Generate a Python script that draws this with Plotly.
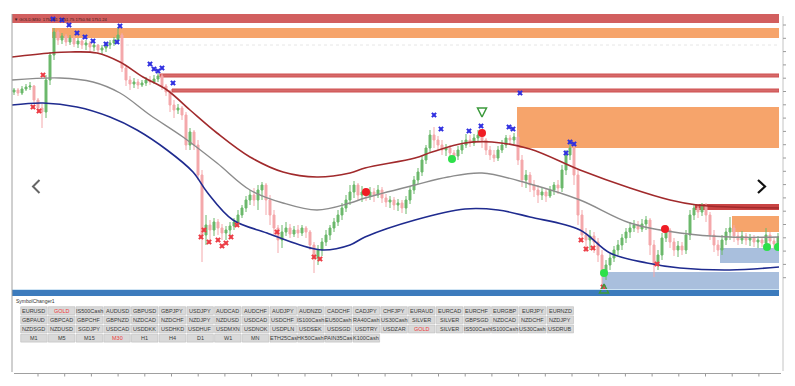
import plotly.graph_objects as go

# page is 795x386; the browser body has an 8px margin, so the figure is 779x370 at (8, 8)
PAGE_OFF = 8
W, H = 779, 370

# ---------------- data (GOLD, M30) ----------------
bar_index = list(range(192))

open_ = [1765.8, 1766.0, 1765.7, 1766.1, 1766.3, 1766.4, 1765.0, 1764.2, 1763.8, 1767.0,
         1769.5, 1771.8, 1771.0, 1771.4, 1770.8, 1771.2, 1770.6, 1770.9, 1770.5, 1770.7,
         1770.3, 1770.5, 1770.0, 1770.2, 1770.5, 1770.7, 1771.0, 1771.5, 1768.2, 1767.0,
         1766.6, 1766.8, 1766.5, 1766.7, 1767.0, 1766.8, 1767.1, 1767.4, 1766.4, 1765.8,
         1764.5, 1764.0, 1764.2, 1763.5, 1760.5, 1761.8, 1760.5, 1757.5, 1751.5, 1752.5,
         1752.0, 1752.8, 1752.2, 1751.7, 1752.0, 1752.4, 1752.8, 1753.5, 1754.2, 1755.0,
         1755.5, 1755.0, 1756.0, 1756.5, 1755.0, 1753.5, 1752.2, 1751.0, 1751.8, 1752.2,
         1751.6, 1752.0, 1751.7, 1752.2, 1751.8, 1750.5, 1749.2, 1750.0, 1750.8, 1751.5,
         1752.2, 1752.8, 1753.5, 1754.2, 1755.0, 1755.8, 1756.5, 1755.5, 1755.8, 1755.4,
         1755.8, 1755.5, 1756.0, 1755.2, 1754.8, 1755.0, 1754.5, 1754.7, 1754.2, 1755.0,
         1756.0, 1757.0, 1757.8, 1759.0, 1760.2, 1761.5, 1761.0, 1760.5, 1760.0, 1760.2,
         1759.7, 1759.4, 1760.0, 1760.5, 1761.0, 1760.7, 1761.2, 1761.5, 1761.0, 1760.0,
         1759.5, 1759.2, 1760.0, 1760.5, 1761.2, 1761.0, 1761.3, 1759.0, 1757.0, 1757.5,
         1756.5, 1756.0, 1755.5, 1755.8, 1755.4, 1756.0, 1756.5, 1756.2, 1758.0, 1759.5,
         1760.2, 1757.5, 1753.5, 1751.5, 1751.0, 1751.4, 1750.8, 1749.5, 1747.5, 1748.5,
         1749.2, 1750.0, 1750.5, 1751.2, 1751.8, 1752.2, 1752.5, 1752.1, 1752.6, 1753.0,
         1750.5, 1748.5, 1749.5, 1751.2, 1752.0, 1750.8, 1750.0, 1750.4, 1750.0, 1751.5,
         1753.5, 1754.2, 1753.8, 1754.4, 1753.5, 1751.5, 1750.5, 1750.0, 1751.0, 1751.8,
         1752.2, 1751.4, 1751.0, 1751.4, 1751.0, 1751.2, 1750.8, 1751.0, 1750.7, 1751.5,
         1750.9, 1750.6]

close = [1766.0, 1765.7, 1766.1, 1766.3, 1766.4, 1765.0, 1764.2, 1763.8, 1767.0, 1769.5,
         1771.8, 1771.0, 1771.4, 1770.8, 1771.2, 1770.6, 1770.9, 1770.5, 1770.7, 1770.3,
         1770.5, 1770.0, 1770.2, 1770.5, 1770.7, 1771.0, 1771.5, 1768.2, 1767.0, 1766.6,
         1766.8, 1766.5, 1766.7, 1767.0, 1766.8, 1767.1, 1767.4, 1766.4, 1765.8, 1764.5,
         1764.0, 1764.2, 1763.5, 1760.5, 1761.8, 1760.5, 1757.5, 1751.5, 1752.5, 1752.0,
         1752.8, 1752.2, 1751.7, 1752.0, 1752.4, 1752.8, 1753.5, 1754.2, 1755.0, 1755.5,
         1755.0, 1756.0, 1756.5, 1755.0, 1753.5, 1752.2, 1751.0, 1751.8, 1752.2, 1751.6,
         1752.0, 1751.7, 1752.2, 1751.8, 1750.5, 1749.2, 1750.0, 1750.8, 1751.5, 1752.2,
         1752.8, 1753.5, 1754.2, 1755.0, 1755.8, 1756.5, 1755.5, 1755.8, 1755.4, 1755.8,
         1755.5, 1756.0, 1755.2, 1754.8, 1755.0, 1754.5, 1754.7, 1754.2, 1755.0, 1756.0,
         1757.0, 1757.8, 1759.0, 1760.2, 1761.5, 1761.0, 1760.5, 1760.0, 1760.2, 1759.7,
         1759.4, 1760.0, 1760.5, 1761.0, 1760.7, 1761.2, 1761.5, 1761.0, 1760.0, 1759.5,
         1759.2, 1760.0, 1760.5, 1761.2, 1761.0, 1761.3, 1759.0, 1757.0, 1757.5, 1756.5,
         1756.0, 1755.5, 1755.8, 1755.4, 1756.0, 1756.5, 1756.2, 1758.0, 1759.5, 1760.2,
         1757.5, 1753.5, 1751.5, 1751.0, 1751.4, 1750.8, 1749.5, 1747.5, 1748.5, 1749.2,
         1750.0, 1750.5, 1751.2, 1751.8, 1752.2, 1752.5, 1752.1, 1752.6, 1753.0, 1750.5,
         1748.5, 1749.5, 1751.2, 1752.0, 1750.8, 1750.0, 1750.4, 1750.0, 1751.5, 1753.5,
         1754.2, 1753.8, 1754.4, 1753.5, 1751.5, 1750.5, 1750.0, 1751.0, 1751.8, 1752.2,
         1751.4, 1751.0, 1751.4, 1751.0, 1751.2, 1750.8, 1751.0, 1750.7, 1751.5, 1750.9,
         1750.6, 1751.3]

high = [1766.2, 1766.2, 1766.4, 1766.6, 1766.8, 1766.5, 1765.2, 1764.6, 1767.5, 1769.8,
        1772.2, 1772.0, 1771.7, 1771.6, 1771.5, 1771.4, 1771.2, 1771.1, 1771.0, 1770.9,
        1770.8, 1770.6, 1770.5, 1770.8, 1771.0, 1771.3, 1772.3, 1771.7, 1768.5, 1767.4,
        1767.2, 1767.1, 1767.0, 1767.3, 1767.4, 1767.5, 1767.7, 1767.6, 1766.6, 1766.0,
        1765.0, 1764.6, 1764.4, 1763.8, 1762.2, 1762.0, 1761.0, 1758.0, 1753.5, 1753.0,
        1753.2, 1753.1, 1752.6, 1752.4, 1752.8, 1753.2, 1754.0, 1754.5, 1755.4, 1756.0,
        1756.2, 1756.5, 1756.8, 1756.7, 1755.5, 1754.0, 1752.5, 1752.5, 1752.8, 1752.6,
        1752.4, 1752.5, 1752.5, 1752.4, 1752.0, 1750.8, 1750.5, 1751.2, 1752.0, 1752.5,
        1753.2, 1754.0, 1754.7, 1755.5, 1756.5, 1756.9, 1756.7, 1756.4, 1756.2, 1756.3,
        1756.2, 1756.5, 1756.3, 1755.6, 1755.4, 1755.3, 1755.1, 1755.0, 1755.4, 1756.4,
        1757.4, 1758.2, 1759.4, 1760.5, 1762.0, 1762.3, 1761.4, 1761.0, 1760.6, 1760.5,
        1760.0, 1760.4, 1761.0, 1761.6, 1761.5, 1761.6, 1762.0, 1762.0, 1761.2, 1760.4,
        1760.0, 1760.4, 1761.0, 1761.5, 1761.5, 1761.7, 1762.0, 1759.5, 1758.0, 1757.8,
        1757.0, 1756.5, 1756.3, 1756.1, 1756.4, 1756.8, 1757.0, 1758.5, 1760.0, 1760.7,
        1760.5, 1758.0, 1754.0, 1752.2, 1752.0, 1751.8, 1751.2, 1750.0, 1749.0, 1749.6,
        1750.4, 1751.0, 1751.6, 1752.2, 1752.8, 1753.0, 1752.9, 1753.1, 1753.4, 1753.2,
        1751.0, 1750.0, 1751.7, 1752.5, 1752.2, 1751.2, 1750.9, 1750.8, 1752.0, 1754.0,
        1754.6, 1754.6, 1754.7, 1754.7, 1753.8, 1752.0, 1751.0, 1751.5, 1752.2, 1753.3,
        1752.5, 1751.8, 1751.9, 1751.7, 1751.6, 1751.5, 1751.4, 1751.3, 1752.2, 1751.8,
        1751.2, 1751.7]

low = [1765.5, 1765.4, 1765.5, 1765.9, 1766.0, 1764.6, 1763.8, 1762.2, 1763.2, 1766.5,
       1769.0, 1770.5, 1770.6, 1770.4, 1770.5, 1770.3, 1770.2, 1770.1, 1770.0, 1769.8,
       1769.9, 1769.6, 1769.5, 1769.8, 1770.1, 1770.4, 1770.6, 1767.8, 1766.4, 1766.0,
       1766.2, 1766.1, 1766.3, 1766.4, 1766.5, 1766.6, 1766.8, 1766.0, 1765.4, 1763.8,
       1763.2, 1763.6, 1763.0, 1760.0, 1760.0, 1760.0, 1757.0, 1748.8, 1750.5, 1751.0,
       1751.4, 1751.5, 1751.0, 1751.0, 1751.4, 1752.0, 1752.4, 1753.2, 1753.8, 1754.5,
       1754.4, 1754.0, 1755.0, 1753.5, 1752.5, 1751.5, 1749.7, 1750.2, 1751.4, 1751.2,
       1751.3, 1751.2, 1751.4, 1751.2, 1750.0, 1747.7, 1748.5, 1749.4, 1750.4, 1751.0,
       1751.8, 1752.4, 1753.0, 1753.8, 1754.5, 1755.2, 1755.0, 1754.8, 1754.9, 1755.0,
       1754.8, 1755.2, 1754.7, 1754.3, 1754.2, 1754.0, 1753.9, 1753.7, 1753.6, 1754.6,
       1755.6, 1756.6, 1757.4, 1758.6, 1759.8, 1760.2, 1760.0, 1759.5, 1759.4, 1759.2,
       1758.9, 1759.0, 1759.6, 1760.2, 1760.3, 1760.4, 1760.8, 1760.2, 1759.5, 1759.0,
       1758.8, 1758.9, 1759.7, 1760.2, 1760.5, 1760.6, 1758.5, 1756.3, 1756.2, 1755.8,
       1755.3, 1754.7, 1755.0, 1754.8, 1755.2, 1755.5, 1755.6, 1755.8, 1757.5, 1759.0,
       1756.5, 1752.5, 1750.8, 1749.8, 1750.0, 1749.7, 1748.8, 1746.3, 1747.0, 1748.0,
       1748.8, 1749.5, 1750.0, 1750.7, 1751.2, 1751.8, 1751.7, 1751.8, 1752.0, 1749.5,
       1747.3, 1748.0, 1749.0, 1750.8, 1750.2, 1749.4, 1749.3, 1749.5, 1749.6, 1751.0,
       1753.0, 1753.2, 1753.4, 1752.8, 1751.0, 1749.8, 1749.4, 1749.5, 1750.5, 1751.0,
       1750.8, 1750.5, 1750.6, 1750.5, 1750.4, 1750.3, 1750.2, 1750.3, 1750.0, 1750.4,
       1750.1, 1750.3]

# envelope curves (bar index, price)
upper_x = [-0.5, 9, 14, 20.75, 26.5, 32.25, 38.25, 44, 50.75, 59, 67.25, 75.75, 84, 87.75,
           100.25, 104.5, 112.75, 119.5, 129, 141.5, 154, 164, 170.75, 179, 191.25]
upper_y = [1769.3, 1769.7, 1769.8, 1769.7, 1768.8, 1767.3, 1766.0, 1764.0, 1761.7, 1759.3,
           1757.8, 1757.3, 1757.7, 1758.2, 1759.2, 1759.8, 1760.7, 1760.8, 1760.1, 1758.0,
           1756.2, 1755.0, 1754.5, 1754.3, 1754.2]
mid_x = [-0.5, 11.5, 19.75, 26.5, 34, 42.25, 50.75, 59, 67.25, 75.75, 84, 87.75, 100.25,
         108.5, 117, 129, 141.5, 154, 166.5, 179, 191.25]
mid_y = [1767.0, 1767.2, 1766.8, 1765.7, 1763.5, 1761.3, 1758.7, 1756.0, 1754.7, 1754.0,
         1754.7, 1755.2, 1756.5, 1757.3, 1757.7, 1756.6, 1755.0, 1752.7, 1751.7, 1751.3, 1751.3]
lower_x = [-0.5, 7.25, 15.75, 24, 30.75, 38.25, 44.75, 48.25, 54.75, 63.25, 71.5, 77.25, 84,
           87.75, 100.25, 112.75, 121, 129, 141.5, 149, 158.25, 166.5, 179, 191.25]
lower_y = [1764.5, 1764.7, 1764.3, 1763.3, 1762.0, 1760.0, 1757.8, 1755.8, 1753.0, 1751.7,
           1750.5, 1750.0, 1750.5, 1751.3, 1753.0, 1754.1, 1754.0, 1753.3, 1752.0, 1749.7,
           1748.7, 1748.2, 1748.0, 1748.3]

# signal marks
sell_x = [9.75, 12, 13.75, 15.75, 17.75, 19.75, 23, 25.75, 26.5, 34, 35, 36, 37, 39.75,
          105, 106.75, 113.75, 116.75, 123.75, 124.75, 126.5, 138, 139, 140]
sell_y = [1773.1, 1773.0, 1772.5, 1771.7, 1771.3, 1770.9, 1770.6, 1770.8, 1772.4, 1768.6,
          1768.1, 1767.9, 1768.2, 1766.7, 1763.5, 1762.1, 1761.9, 1762.4, 1762.3, 1762.1,
          1765.7, 1759.7, 1760.8, 1760.6]
buy_x = [4.75, 6.25, 7.25, 46.75, 47.5, 48.75, 51, 52, 53, 54.25, 55.75, 65.75, 75, 76.5,
         141.75, 143, 144.75, 160.75, 147.25]
buy_y = [1764.3, 1763.9, 1767.5, 1751.3, 1752.0, 1750.8, 1751.0, 1750.4, 1750.7, 1751.3,
         1752.5, 1751.8, 1749.3, 1749.1, 1751.0, 1750.1, 1750.2, 1748.6, 1746.3]
red_dot_x = [88, 117, 162.75]
red_dot_y = [1755.8, 1761.7, 1752.1]
green_dot_x = [109.5, 147.5, 188.25, 191]
green_dot_y = [1759.1, 1747.7, 1750.3, 1750.3]
arrow_dn_x, arrow_dn_y = [117], [1763.3]
arrow_up_x, arrow_up_y = [147.5], [1746.6]

# supply / demand zones: start bar, top price, bottom price
zone_start = [-0.5, 9.5, 36.5, 39.5, 125.75, 170.25, 179.5, 176.5, 147, -0.5]
zone_top = [1773.6, 1772.2, 1767.6, 1766.1, 1764.3, 1754.6, 1753.4, 1750.2, 1747.8, 1746.0]
zone_bottom = [1772.7, 1771.2, 1767.3, 1765.8, 1760.2, 1754.0, 1751.8, 1748.7, 1746.0, 1745.4]
zone_kind = ["red", "orange", "redline", "redline", "orange", "darkred", "orange",
             "demand", "demand", "blue"]

header_text = "▼ GOLD,M30  1751.81 1751.75 1750.94 1751.24"
panel_title = "SymbolChanger1"
button_rows = [
    ["EURUSD", "GOLD", "IS500Cash", "AUDUSD", "GBPUSD", "GBPJPY", "USDJPY", "AUDCAD", "AUDCHF",
     "AUDJPY", "AUDNZD", "CADCHF", "CADJPY", "CHFJPY", "EURAUD", "EURCAD", "EURCHF", "EURGBP",
     "EURJPY", "EURNZD"],
    ["GBPAUD", "GBPCAD", "GBPCHF", "GBPNZD", "NZDCAD", "NZDCHF", "NZDJPY", "NZDUSD", "USDCAD",
     "USDCHF", "IS100Cash", "EU50Cash", "RA40Cash", "US30Cash", "SILVER", "SILVER", "GBPSGD",
     "NZDCAD", "NZDCHF", "NZDJPY"],
    ["NZDSGD", "NZDUSD", "SGDJPY", "USDCAD", "USDDKK", "USDHKD", "USDHUF", "USDMXN", "USDNOK",
     "USDPLN", "USDSEK", "USDSGD", "USDTRY", "USDZAR", "GOLD", "SILVER", "IS500Cash",
     "IS100Cash", "US30Cash", "USDRUB"],
    ["M1", "M5", "M15", "M30", "H1", "H4", "D1", "W1", "MN", "ETH25Cas", "HK50Cash",
     "PAIN35Cas", "K100Cash"],
]
active_buttons = [(0, 1), (2, 14), (3, 3)]

PRICE_MIN, PRICE_MAX = 1745.3, 1773.6


# ---------------- helpers: page pixel -> paper ----------------
def px(x):
    return (x - PAGE_OFF) / W


def py(y):
    return 1 - (y - PAGE_OFF) / H


fig = go.Figure()

zone_style = {
    "red": dict(fillcolor="#d25f5f", line=dict(width=0)),
    "orange": dict(fillcolor="#f6a46b", line=dict(width=0)),
    "redline": dict(fillcolor="#d66a6a", line=dict(color="#cf5050", width=1)),
    "darkred": dict(fillcolor="#c94444", line=dict(width=0)),
    "demand": dict(fillcolor="#a9bfdd", line=dict(width=0)),
    "blue": dict(fillcolor="#3c7bbd", line=dict(width=0)),
}
shapes = []
for s, t, b, k in zip(zone_start, zone_top, zone_bottom, zone_kind):
    shapes.append(dict(type="rect", xref="x", yref="y", x0=s, x1=191.25, y0=b, y1=t,
                       layer="below", **zone_style[k]))

shapes.append(dict(type="line", xref="paper", yref="paper", x0=px(120), x1=px(779),
                   y0=py(45), y1=py(45), line=dict(color="#e6e6e6", width=1, dash="dot"),
                   layer="below"))
shapes.append(dict(type="line", xref="paper", yref="paper", x0=px(12), x1=px(779),
                   y0=py(289.5), y1=py(289.5), line=dict(color="#cfe4f4", width=1)))

fig.add_trace(go.Candlestick(
    x=bar_index, open=open_, high=high, low=low, close=close,
    increasing=dict(line=dict(color="#6bb86b", width=1), fillcolor="#6bb86b"),
    decreasing=dict(line=dict(color="#f4a8ab", width=1), fillcolor="#f4a8ab"),
    whiskerwidth=0, hoverinfo="skip", showlegend=False))

fig.add_trace(go.Scatter(x=upper_x, y=upper_y, mode="lines",
                         line=dict(color="#a12a2c", width=1.6, shape="spline")))
fig.add_trace(go.Scatter(x=mid_x, y=mid_y, mode="lines",
                         line=dict(color="#8c8c8c", width=1.4, shape="spline")))
fig.add_trace(go.Scatter(x=lower_x, y=lower_y, mode="lines",
                         line=dict(color="#1f2b8f", width=1.6, shape="spline")))

fig.add_trace(go.Scatter(x=sell_x, y=sell_y, mode="markers",
                         marker=dict(symbol="x", size=5, color="#2f2fe0")))
fig.add_trace(go.Scatter(x=buy_x, y=buy_y, mode="markers",
                         marker=dict(symbol="x", size=5, color="#ec3b44")))
fig.add_trace(go.Scatter(x=red_dot_x, y=red_dot_y, mode="markers",
                         marker=dict(symbol="circle", size=8, color="#f01c24")))
fig.add_trace(go.Scatter(x=green_dot_x, y=green_dot_y, mode="markers",
                         marker=dict(symbol="circle", size=8, color="#2de04a")))
fig.add_trace(go.Scatter(x=arrow_dn_x, y=arrow_dn_y, mode="markers",
                         marker=dict(symbol="arrow-down-open", size=9, color="#3c9a3c",
                                     line=dict(width=1.5, color="#3c9a3c"))))
fig.add_trace(go.Scatter(x=arrow_up_x, y=arrow_up_y, mode="markers",
                         marker=dict(symbol="arrow-up-open", size=9, color="#3c9a3c",
                                     line=dict(width=1.5, color="#3c9a3c"))))

annotations = []
annotations.append(dict(xref="paper", yref="paper", x=px(12), y=py(19), text=header_text,
                        showarrow=False, xanchor="left", yanchor="middle",
                        font=dict(family="Liberation Sans", size=4.2, color="#3a1a1a")))
annotations.append(dict(xref="paper", yref="paper", x=px(14), y=py(300.5), text=panel_title,
                        showarrow=False, xanchor="left", yanchor="middle",
                        font=dict(family="Liberation Sans", size=5, color="#333333")))

# window frame
frame = dict(color="#a0a0a0", width=1)
shapes.append(dict(type="line", xref="paper", yref="paper", x0=px(12), x1=px(12),
                   y0=py(14), y1=py(372), line=frame))
shapes.append(dict(type="line", xref="paper", yref="paper", x0=px(14), x1=px(781),
                   y0=py(373.5), y1=py(373.5), line=frame))
shapes.append(dict(type="line", xref="paper", yref="paper", x0=px(783), x1=px(783),
                   y0=py(16), y1=py(371), line=dict(color="#c4c4c4", width=1)))
for k in range(21):
    yy = 25 + k * 13.3
    if yy > 290:
        break
    shapes.append(dict(type="line", xref="paper", yref="paper", x0=px(783), x1=px(786),
                       y0=py(yy), y1=py(yy), line=dict(color="#9a9a9a", width=1)))
for k in range(29):
    xx = 38 + k * 26.7
    if xx > 779:
        break
    shapes.append(dict(type="line", xref="paper", yref="paper", x0=px(xx), x1=px(xx),
                       y0=py(373.5), y1=py(376.5), line=dict(color="#9a9a9a", width=1)))

# carousel chevrons
shapes.append(dict(type="path", xref="paper", yref="paper",
                   path=f"M {px(39.5)} {py(180)} L {px(33)} {py(186.5)} L {px(39.5)} {py(193)}",
                   line=dict(color="#666666", width=2)))
shapes.append(dict(type="path", xref="paper", yref="paper",
                   path=f"M {px(758)} {py(180)} L {px(765)} {py(186.5)} L {px(758)} {py(193)}",
                   line=dict(color="#111111", width=2.2)))

# symbol changer buttons
for r, labels in enumerate(button_rows):
    for j, lab in enumerate(labels):
        x0 = 20.7 + j * 27.7
        x1 = x0 + 26.5
        y0 = 306.7 + r * 9.2
        y1 = y0 + 7.8
        shapes.append(dict(type="rect", xref="paper", yref="paper", x0=px(x0), x1=px(x1),
                           y0=py(y1), y1=py(y0), fillcolor="#d9d9d9",
                           line=dict(color="#bcbcbc", width=0.6)))
        col = "#ee3a3a" if (r, j) in active_buttons else "#3a3a3a"
        annotations.append(dict(xref="paper", yref="paper", x=px((x0 + x1) / 2),
                                y=py((y0 + y1) / 2), text=lab, showarrow=False,
                                xanchor="center", yanchor="middle",
                                font=dict(family="Liberation Sans", size=5.5, color=col)))

fig.update_layout(
    width=W, height=H, margin=dict(l=0, r=0, t=0, b=0),
    paper_bgcolor="white", plot_bgcolor="white", showlegend=False,
    xaxis=dict(domain=[px(12), px(779)], range=[-0.5, 191.25], visible=False,
               showgrid=False, rangeslider=dict(visible=False), fixedrange=True),
    yaxis=dict(domain=[py(297), py(14)], range=[PRICE_MIN, PRICE_MAX], visible=False,
               showgrid=False, fixedrange=True),
    shapes=shapes, annotations=annotations,
)

fig.write_html("out.html")
